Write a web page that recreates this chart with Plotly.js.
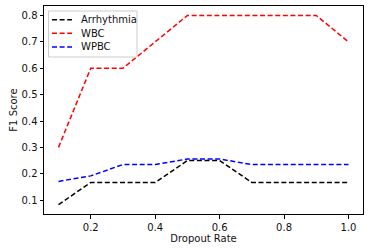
<!DOCTYPE html>
<html><head><meta charset="utf-8">
<script src="https://cdn.plot.ly/plotly-3.0.1.min.js"></script>
<style>body{margin:0;padding:0;background:#fff}#chart{width:373px;height:250px}</style>
</head><body><div id="chart"></div>
<script>
const dropout = [0.1,0.2,0.3,0.4,0.5,0.6,0.7,0.8,0.9,1.0];
const arrhythmia = [0.083,0.167,0.167,0.167,0.25,0.25,0.167,0.167,0.167,0.167];
const wbc = [0.3,0.6,0.6,0.7,0.8,0.8,0.8,0.8,0.8,0.7];
const wpbc = [0.171,0.192,0.235,0.235,0.256,0.256,0.235,0.235,0.235,0.235];
const seriesNames = ['Arrhythmia','WBC','WPBC'];
const seriesColors = ['black','red','blue'];
const xTicks = [0.2,0.4,0.6,0.8,1.0];
const yTicks = [0.1,0.2,0.3,0.4,0.5,0.6,0.7,0.8];

const W = 373, H = 250, M = {l:44, r:10, t:6, b:36};
const pw = W - M.l - M.r, ph = H - M.t - M.b;
const px = v => (v - M.l) / pw;          // pixel -> paper x
const py = v => (H - M.b - v) / ph;      // pixel -> paper y
const DASH = '5px,2.6px';

const seriesData = [arrhythmia, wbc, wpbc];
const traces = seriesData.map((y, i) => ({x: dropout, y: y, name: seriesNames[i], type:'scatter', mode:'lines',
  line:{color:seriesColors[i], dash:DASH, width:1.5}, showlegend:false}));

const font = {family:'DejaVu Sans, sans-serif', size:10, color:'#111'};
const axis = {showline:true, mirror:true, linecolor:'black', linewidth:1, ticks:'outside', ticklen:3.5,
  tickcolor:'black', showgrid:false, zeroline:false, tickfont:font};

// manual legend (matplotlib style)
const shapes = [{type:'rect', xref:'paper', yref:'paper', x0:px(48.5), x1:px(137), y0:py(11), y1:py(57),
  line:{color:'#cccccc', width:1}, fillcolor:'rgba(255,255,255,0.85)', layer:'above'}];
const annotations = [];
const rowY = [19.7, 33.3, 47];
seriesNames.forEach((n, i) => {
  shapes.push({type:'line', xref:'paper', yref:'paper', x0:px(52), x1:px(72), y0:py(rowY[i]), y1:py(rowY[i]),
    line:{color:seriesColors[i], width:1.5, dash:DASH}, layer:'above'});
  annotations.push({xref:'paper', yref:'paper', x:px(79), y:py(rowY[i]), xanchor:'left', yanchor:'middle',
    text:n, showarrow:false, font:font});
});

Plotly.newPlot('chart', traces, {
  width:W, height:H, margin:M,
  paper_bgcolor:'white', plot_bgcolor:'white', font:font, showlegend:false,
  xaxis:Object.assign({}, axis, {range:[0.055,1.045], tickvals:xTicks, tickformat:'.1f',
    title:{text:'Dropout Rate', font:font, standoff:3}}),
  yaxis:Object.assign({}, axis, {range:[0.0475,0.836], tickvals:yTicks, tickformat:'.1f',
    title:{text:'F1 Score', font:font, standoff:2}}),
  shapes:shapes, annotations:annotations
}, {staticPlot:true});
</script></body></html>
